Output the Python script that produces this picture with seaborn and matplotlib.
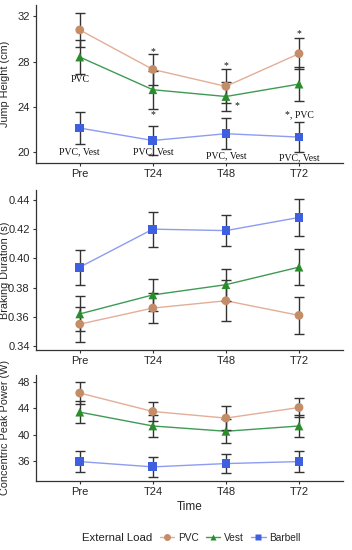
import matplotlib
matplotlib.use("Agg")
import matplotlib.pyplot as plt
import pandas as pd
import seaborn as sns
from matplotlib.lines import Line2D

times = ["Pre", "T24", "T48", "T72"]
loads = ["PVC", "Vest", "Barbell"]

jump_mean = {"PVC": [30.8, 27.3, 25.8, 28.7],
             "Vest": [28.4, 25.5, 24.9, 26.0],
             "Barbell": [22.1, 21.0, 21.6, 21.3]}
jump_err = {"PVC": [1.5, 1.4, 1.5, 1.4],
            "Vest": [1.5, 1.7, 1.3, 1.5],
            "Barbell": [1.4, 1.3, 1.4, 1.3]}

brake_mean = {"PVC": [0.355, 0.366, 0.371, 0.361],
              "Vest": [0.362, 0.375, 0.382, 0.394],
              "Barbell": [0.394, 0.420, 0.419, 0.428]}
brake_err = {"PVC": [0.012, 0.0105, 0.014, 0.0125],
             "Vest": [0.012, 0.011, 0.011, 0.0125],
             "Barbell": [0.012, 0.012, 0.0105, 0.0125]}

power_mean = {"PVC": [46.3, 43.5, 42.5, 44.1],
              "Vest": [43.4, 41.3, 40.5, 41.3],
              "Barbell": [35.9, 35.1, 35.6, 35.9]}
power_err = {"PVC": [1.7, 1.5, 1.8, 1.5],
             "Vest": [1.7, 1.7, 1.8, 1.7],
             "Barbell": [1.6, 1.5, 1.5, 1.6]}

# significance annotations: (time index, y value, text)
jump_notes = [(0, 26.4, "PVC"),
              (1, 28.9, "*"), (2, 27.6, "*"), (3, 30.5, "*"),
              (1, 23.3, "*"), (2.15, 24.1, "*"), (3, 23.3, "*, PVC"),
              (0, 20.0, "PVC, Vest"), (1, 20.0, "PVC, Vest"),
              (2, 19.65, "PVC, Vest"), (3, 19.5, "PVC, Vest")]

marker_color = {"PVC": "#c58c68", "Vest": "#2b8c2b", "Barbell": "#3e5fe0"}
line_color = {"PVC": "#e2ae98", "Vest": "#3f9a55", "Barbell": "#8d9cf0"}
markers = {"PVC": "o", "Vest": "^", "Barbell": "s"}

sns.set_theme(style="ticks")
plt.rcParams["font.family"] = ["Liberation Sans", "DejaVu Sans"]


def to_long(means):
    rows = []
    for load in loads:
        for i, t in enumerate(times):
            rows.append({"time": i, "load": load, "value": means[load][i]})
    return pd.DataFrame(rows)


def draw_panel(ax, means, errs, ylabel, ylim, yticks, fmt):
    df = to_long(means)
    for load in loads:
        sub = df[df["load"] == load]
        sns.lineplot(data=sub, x="time", y="value", ax=ax, color=line_color[load],
                     linewidth=1.0, zorder=2)
        ax.errorbar(sub["time"], sub["value"], yerr=errs[load], fmt="none",
                    ecolor="#333333", elinewidth=1.0, capsize=3.5, capthick=1.0, zorder=3)
        sns.scatterplot(data=sub, x="time", y="value", ax=ax, color=marker_color[load],
                        marker=markers[load], s=40, edgecolor="none", zorder=4)
    ax.set_xlim(-0.6, 3.6)
    ax.set_ylim(*ylim)
    ax.set_xticks(range(len(times)))
    ax.set_xticklabels(times)
    ax.set_yticks(yticks)
    ax.set_yticklabels([fmt.format(v) for v in yticks])
    ax.set_xlabel("")
    ax.set_ylabel(ylabel, fontsize=7.8)
    ax.yaxis.set_label_coords(-0.085, 0.5)
    ax.tick_params(labelsize=8, length=2.5, width=0.8, color="#333333", pad=2)
    for side in ["left", "bottom"]:
        ax.spines[side].set_color("#333333")
        ax.spines[side].set_linewidth(0.9)
    sns.despine(ax=ax)


fig = plt.figure(figsize=(3.52, 5.5), dpi=100)
ax1 = fig.add_axes([0.102, 0.7036, 0.872, 0.287])
ax2 = fig.add_axes([0.102, 0.3636, 0.872, 0.291])
ax3 = fig.add_axes([0.102, 0.1255, 0.872, 0.193])

draw_panel(ax1, jump_mean, jump_err, "Jump Height (cm)", (19.0, 33.0),
           [20, 24, 28, 32], "{:.0f}")
draw_panel(ax2, brake_mean, brake_err, "Braking Duration (s)", (0.3373, 0.4468),
           [0.34, 0.36, 0.38, 0.40, 0.42, 0.44], "{:.2f}")
draw_panel(ax3, power_mean, power_err, "Concentric Peak Power (W)", (32.96, 49.06),
           [36, 40, 44, 48], "{:.0f}")
ax3.set_xlabel("Time", fontsize=8.5, labelpad=3)

for x, y, txt in jump_notes:
    ax1.text(x, y, txt, ha="center", va="center", fontsize=7,
             family=["Liberation Serif", "DejaVu Serif"], color="#111111", zorder=5)

handles = [Line2D([0], [0], color=line_color[l], marker=markers[l],
                  markerfacecolor=marker_color[l], markeredgecolor="none",
                  markersize=5, linewidth=1.0) for l in loads]
fig.text(82 / 352, 1 - 538 / 550, "External Load", fontsize=8.2,
         ha="left", va="center", color="#222222")
fig.legend(handles, loads, loc="center left", bbox_to_anchor=(160 / 352, 1 - 538 / 550),
           ncol=3, frameon=False, fontsize=7.3, handlelength=1.4, handletextpad=0.4,
           columnspacing=0.7, borderpad=0, borderaxespad=0)

fig.savefig("out.png", dpi=100)
